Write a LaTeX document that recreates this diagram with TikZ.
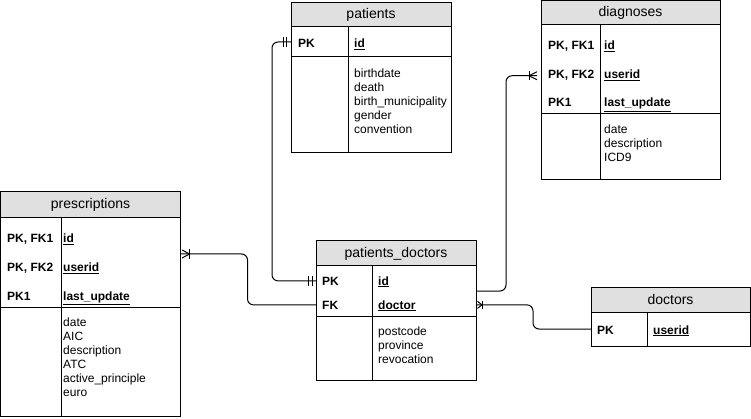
\documentclass[tikz,border=0pt]{standalone}
\usepackage{fontspec}
\setmainfont{Liberation Sans}
\definecolor{hdrgray}{HTML}{E0E0E0}
\begin{document}
\begin{tikzpicture}[x=1pt,y=-1pt,
  tbl/.style={draw=black, line width=1pt, rectangle, inner sep=0pt, outer sep=0pt, anchor=north west},
  hdr/.style={tbl, fill=hdrgray, font=\fontsize{14}{16}\selectfont},
  keytxt/.style={anchor=base west, inner sep=0pt, font=\fontsize{12}{14}\selectfont\bfseries},
  bodytxt/.style={anchor=north west, inner sep=0pt, align=left, font=\fontsize{12}{14}\selectfont},
  conn/.style={draw=black, line width=1pt, rounded corners=6pt},
  erm/.style={draw=black, line width=1pt},
]
\useasboundingbox (0,0) rectangle (751,419);

% ---------------- patients ----------------
\node[hdr, minimum width=160pt, minimum height=24pt] (patH) at (291,3) {patients};
\node[tbl, minimum width=160pt, minimum height=30pt] (patK) at (patH.south west) {};
\node[tbl, minimum width=160pt, minimum height=96pt] (patB) at (patK.south west) {};
\draw[erm] ([xshift=57pt]patK.north west) -- ([xshift=57pt]patB.south west);
\node[keytxt] (patPK) at (298,48) {PK};
\node[keytxt] (patId) at (354,48) {\underline{id}};
\node[bodytxt] (patBody) at (354,68.5) {birthdate\\death\\birth\_municipality\\gender\\convention};

% ---------------- diagnoses ----------------
\node[hdr, minimum width=179pt, minimum height=24pt] (diaH) at (541,1) {diagnoses};
\node[tbl, minimum width=179pt, minimum height=89pt] (diaK) at (diaH.south west) {};
\node[tbl, minimum width=179pt, minimum height=66pt] (diaB) at (diaK.south west) {};
\draw[erm] ([xshift=59pt]diaK.north west) -- ([xshift=59pt]diaB.south west);
\node[keytxt] (diaFK1) at (548,50) {PK, FK1};
\node[keytxt] (diaId) at (604,50) {\underline{id}};
\node[keytxt] (diaFK2) at (548,79) {PK, FK2};
\node[keytxt] (diaUser) at (604,79) {\underline{userid}};
\node[keytxt] (diaPK1) at (548,107) {PK1};
\node[keytxt] (diaLast) at (604,107) {\underline{last\_update}};
\node[bodytxt] (diaBody) at (604,124.5) {date\\description\\ICD9};

% ---------------- prescriptions ----------------
\node[hdr, minimum width=180pt, minimum height=26pt] (preH) at (0.5,192) {prescriptions};
\node[tbl, minimum width=180pt, minimum height=89pt] (preK) at (preH.south west) {};
\node[tbl, minimum width=180pt, minimum height=109pt] (preB) at (preK.south west) {};
\draw[erm] ([xshift=61pt]preK.north west) -- ([xshift=61pt]preB.south west);
\node[keytxt] (preFK1) at (7,243) {PK, FK1};
\node[keytxt] (preId) at (63,243) {\underline{id}};
\node[keytxt] (preFK2) at (7,272) {PK, FK2};
\node[keytxt] (preUser) at (63,272) {\underline{userid}};
\node[keytxt] (prePK1) at (7,300) {PK1};
\node[keytxt] (preLast) at (63,300) {\underline{last\_update}};
\node[bodytxt] (preBody) at (63,317.5) {date\\AIC\\description\\ATC\\active\_principle\\euro};

% ---------------- patients_doctors ----------------
\node[hdr, minimum width=160pt, minimum height=25pt] (pdH) at (316,241) {patients\_doctors};
\node[tbl, minimum width=160pt, minimum height=50pt] (pdK) at (pdH.south west) {};
\node[tbl, minimum width=160pt, minimum height=64pt] (pdB) at (pdK.south west) {};
\draw[erm] ([xshift=56pt]pdK.north west) -- ([xshift=56pt]pdB.south west);
\node[keytxt] (pdPK) at (322,285) {PK};
\node[keytxt] (pdId) at (378,285) {\underline{id}};
\node[keytxt] (pdFK) at (322,309) {FK};
\node[keytxt] (pdDoc) at (378,309) {\underline{doctor}};
\node[bodytxt] (pdBody) at (378,326.5) {postcode\\province\\revocation};

% ---------------- doctors ----------------
\node[hdr, minimum width=159pt, minimum height=25pt] (docH) at (591,287) {doctors};
\node[tbl, minimum width=159pt, minimum height=34pt] (docK) at (docH.south west) {};
\draw[erm] ([xshift=56pt]docK.north west) -- ([xshift=56pt]docK.south west);
\node[keytxt] (docPK) at (597,334) {PK};
\node[keytxt] (docUser) at (653,334) {\underline{userid}};

% ---------------- connectors ----------------
% patients -- patients_doctors (one and only one at both ends)
\coordinate (c1a) at (patK.west);
\coordinate (c1b) at (pdK.west |- pdPK.west);
\draw[conn] (c1a) -- ++(-19,0) |- (c1b);
\draw[erm] ([xshift=-8pt,yshift=5pt]c1a) -- ([xshift=-8pt,yshift=-5pt]c1a);
\draw[erm] ([xshift=-5pt,yshift=5pt]c1a) -- ([xshift=-5pt,yshift=-5pt]c1a);
\draw[erm] ([xshift=-8pt,yshift=5pt]c1b) -- ([xshift=-8pt,yshift=-5pt]c1b);
\draw[erm] ([xshift=-4pt,yshift=5pt]c1b) -- ([xshift=-4pt,yshift=-5pt]c1b);

% patients_doctors -- diagnoses (one or many at diagnoses)
\coordinate (c2a) at (pdK.east);
\coordinate (c2b) at (diaK.west |- diaFK2.west);
\draw[conn, shorten >=4pt] (c2a) -- ++(30,0) |- (c2b);
\draw[erm] ([xshift=-12pt,yshift=4.5pt]c2b) -- ([xshift=-12pt,yshift=-4.5pt]c2b);
\draw[erm] ([xshift=-4pt,yshift=4pt]c2b) -- ([xshift=-12pt]c2b) -- ([xshift=-4pt,yshift=-4pt]c2b);

% prescriptions -- patients_doctors (one or many at prescriptions)
\coordinate (c3a) at ([yshift=8.5pt]preK.east);
\coordinate (c3b) at (pdK.west |- pdFK.west);
\draw[conn] (c3a) -- ++(67,0) |- (c3b);
\draw[erm] ([xshift=9pt,yshift=5pt]c3a) -- ([xshift=9pt,yshift=-5pt]c3a);
\draw[erm] ([xshift=1.5pt,yshift=4pt]c3a) -- ([xshift=9pt]c3a) -- ([xshift=1.5pt,yshift=-4pt]c3a);

% patients_doctors -- doctors (one or many at patients_doctors)
\coordinate (c4a) at (pdK.east |- pdFK.west);
\coordinate (c4b) at (docK.west);
\draw[conn] (c4a) -- ++(57,0) |- (c4b);
\draw[erm] ([xshift=6pt,yshift=4pt]c4a) -- ([xshift=6pt,yshift=-4pt]c4a);
\draw[erm] ([xshift=1.5pt,yshift=3.5pt]c4a) -- ([xshift=6pt]c4a) -- ([xshift=1.5pt,yshift=-3.5pt]c4a);
\end{tikzpicture}
\end{document}
